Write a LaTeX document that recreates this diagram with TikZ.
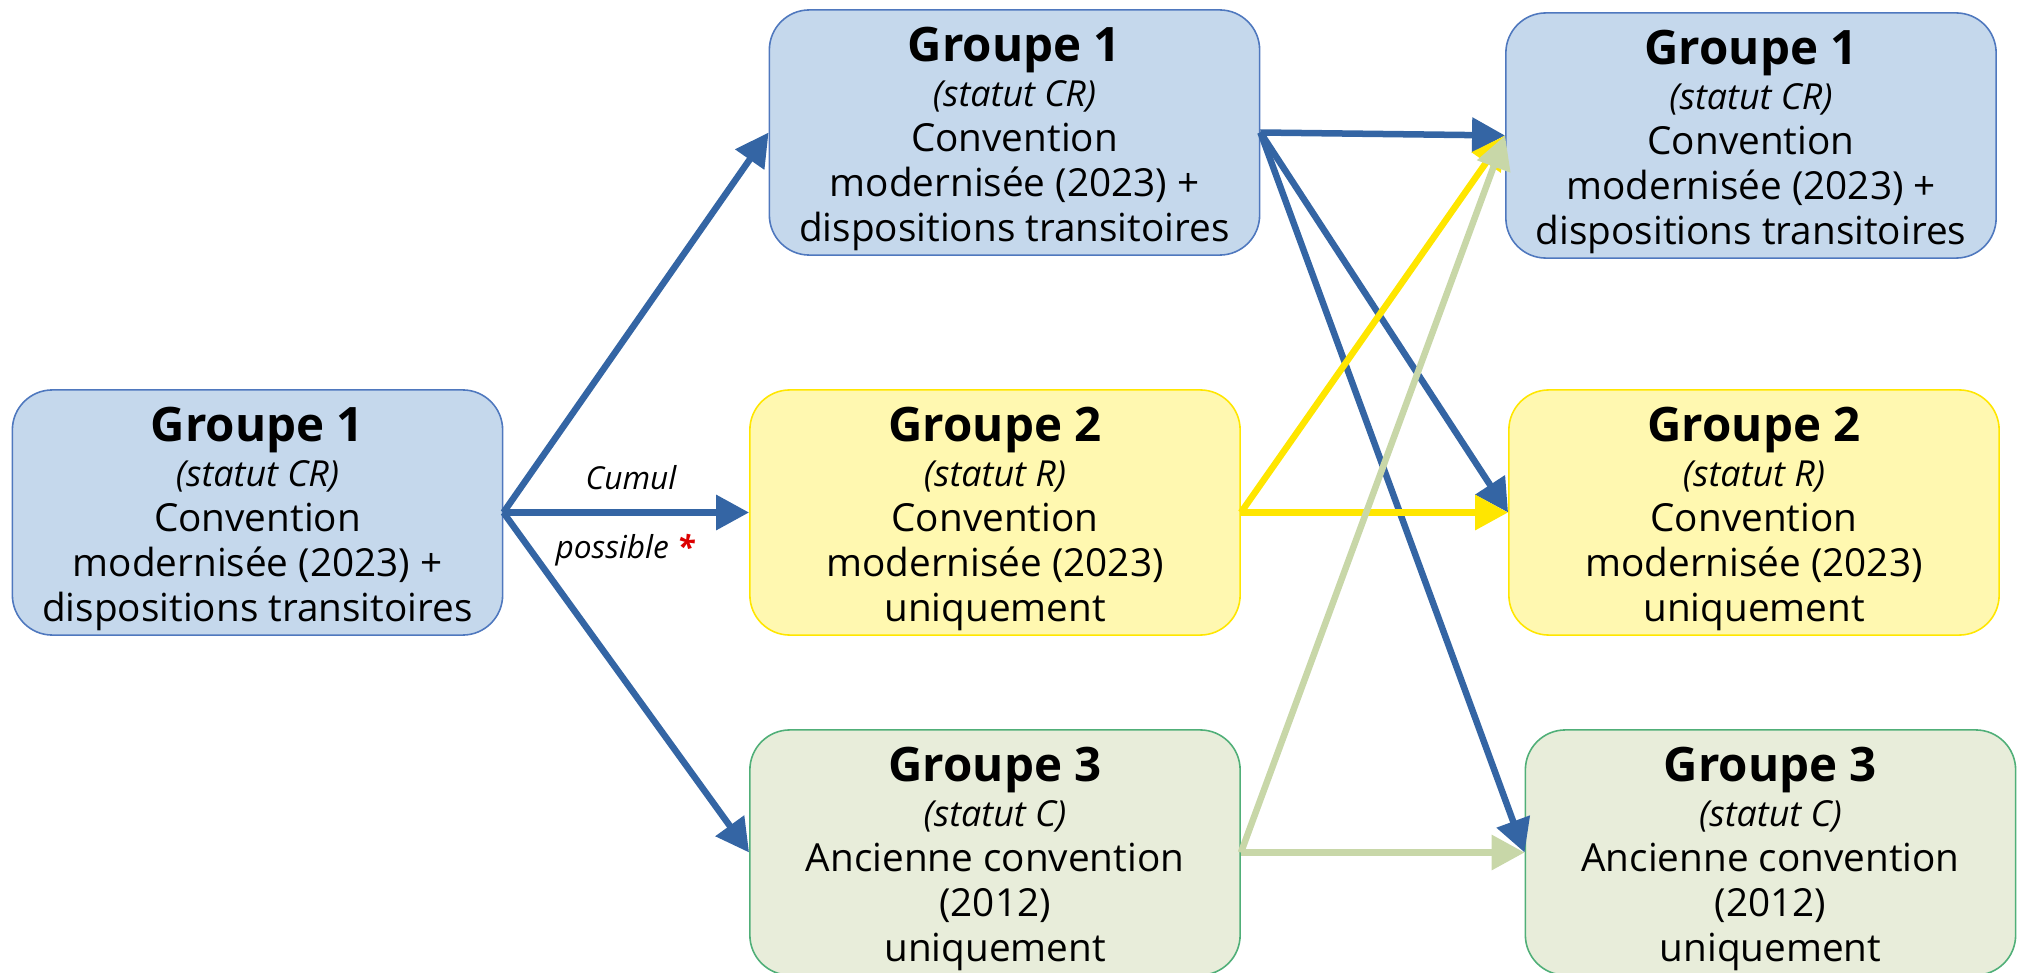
\documentclass[tikz,border=0pt]{standalone}
\usepackage{fontspec}
\setmainfont{Open Sans}
\usetikzlibrary{arrows.meta}
\definecolor{bfill}{RGB}{197,216,236}
\definecolor{bdraw}{RGB}{79,120,190}
\definecolor{yfill}{RGB}{255,248,176}
\definecolor{ydraw}{RGB}{255,230,0}
\definecolor{gfill}{RGB}{232,237,218}
\definecolor{gdraw}{RGB}{80,175,120}
\definecolor{barrow}{RGB}{52,101,164}
\definecolor{yarrow}{RGB}{255,230,0}
\definecolor{garrow}{RGB}{200,215,168}
\definecolor{astred}{RGB}{220,0,0}
\newcommand{\grtitle}[1]{{\fontsize{13.5}{16}\selectfont\bfseries\rule{0pt}{13.5pt}#1}}
\newcommand{\grsub}[1]{{\fontsize{10.2}{13}\selectfont\itshape #1}}
\tikzset{
  grbox/.style={rounded corners=0.4cm, minimum width=4.9cm, minimum height=2.45cm,
    align=center, inner sep=0pt, line width=0.45pt, font=\fontsize{11}{12.8}\selectfont},
  bluebox/.style={grbox, fill=bfill, draw=bdraw},
  yellowbox/.style={grbox, fill=yfill, draw=ydraw},
  greenbox/.style={grbox, fill=gfill, draw=gdraw},
  arr/.style={line width=0.065cm, -{Triangle[length=0.33cm,width=0.34cm]}},
  barr/.style={arr, draw=barrow, fill=barrow},
  yarr/.style={arr, draw=yarrow, fill=yarrow},
  garr/.style={arr, draw=garrow, fill=garrow},
  lbl/.style={font=\fontsize{9}{11}\selectfont\itshape, inner sep=0pt}
}
\begin{document}
\begin{tikzpicture}[x=0.01cm,y=-0.01cm]
\useasboundingbox (0,0) rectangle (2020,973);
\clip (0,0) rectangle (2020,973);
\node[bluebox] (L) at (257.5,512.5) {\grtitle{Groupe 1}\\\grsub{(statut CR)}\\Convention\\modernisée (2023) +\\dispositions transitoires};
\node[bluebox] (M1) at (1014.5,132.5) {\grtitle{Groupe 1}\\\grsub{(statut CR)}\\Convention\\modernisée (2023) +\\dispositions transitoires};
\node[yellowbox] (M2) at (995,512.5) {\grtitle{Groupe 2}\\\grsub{(statut R)}\\Convention\\modernisée (2023)\\uniquement};
\node[greenbox] (M3) at (995,852.5) {\grtitle{Groupe 3}\\\grsub{(statut C)}\\Ancienne convention\\(2012)\\uniquement};
\node[bluebox] (R1) at (1751,135.5) {\grtitle{Groupe 1}\\\grsub{(statut CR)}\\Convention\\modernisée (2023) +\\dispositions transitoires};
\node[yellowbox] (R2) at (1754,512.5) {\grtitle{Groupe 2}\\\grsub{(statut R)}\\Convention\\modernisée (2023)\\uniquement};
\node[greenbox] (R3) at (1770.5,852.5) {\grtitle{Groupe 3}\\\grsub{(statut C)}\\Ancienne convention\\(2012)\\uniquement};
\node[lbl] (cumul) at (631,478) {Cumul};
\node[lbl] (possible) at (625,550) {possible {\color{astred}\bfseries *}};
\draw[barr] (L.east) -- (M1.west);
\draw[barr] (L.east) -- (M2.west);
\draw[barr] (L.east) -- (M3.west);
\draw[barr] (M1.east) -- (R1.west);
\draw[barr] (M1.east) -- (R2.west);
\draw[barr] (M1.east) -- (R3.west);
\draw[yarr] (M2.east) -- (R1.west);
\draw[yarr] (M2.east) -- (R2.west);
\draw[garr] (M3.east) -- (R1.west);
\draw[garr] (M3.east) -- (R3.west);
\end{tikzpicture}
\end{document}
